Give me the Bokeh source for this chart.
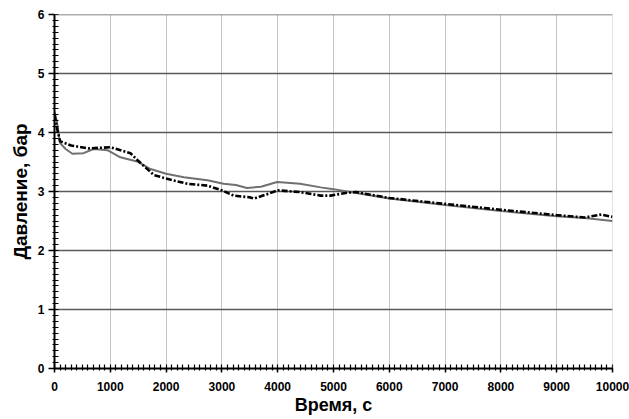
from bokeh.plotting import figure
from bokeh.embed import file_html
from bokeh.resources import INLINE
from bokeh.models import FixedTicker, Range1d, Span, Title

# Series 1: solid grey curve
t_solid = [0, 40, 100, 200, 320, 520, 700, 950, 1180, 1480, 1720, 2000, 2320,
           2740, 3030, 3250, 3450, 3700, 3990, 4400, 4770, 5000, 5300, 6000,
           7000, 8000, 9000, 9500, 10000]
p_solid = [4.35, 4.2, 3.82, 3.72, 3.64, 3.65, 3.72, 3.7, 3.58, 3.51, 3.38, 3.3,
           3.24, 3.19, 3.13, 3.11, 3.06, 3.08, 3.16, 3.13, 3.07, 3.04, 2.99,
           2.88, 2.77, 2.67, 2.58, 2.55, 2.5]

# Series 2: black dash-dot curve
t_dash = [0, 50, 100, 300, 600, 1000, 1360, 1500, 1780, 2000, 2380, 2740, 3000,
          3210, 3510, 3570, 3800, 4000, 4400, 4770, 4950, 5250, 5400, 6000,
          7000, 8000, 9000, 9500, 9800, 10000]
p_dash = [4.3, 4.05, 3.85, 3.78, 3.73, 3.75, 3.65, 3.52, 3.28, 3.22, 3.13, 3.1,
          3.02, 2.93, 2.9, 2.88, 2.95, 3.02, 2.99, 2.93, 2.93, 2.98, 2.99, 2.89,
          2.79, 2.69, 2.6, 2.56, 2.61, 2.57]

x_ticks = [0, 1000, 2000, 3000, 4000, 5000, 6000, 7000, 8000, 9000, 10000]
y_ticks = [0, 1, 2, 3, 4, 5, 6]
x_label = "Время, с"
y_label = "Давление, бар"

p = figure(width=629, height=419, output_backend="svg", toolbar_location=None,
           x_range=Range1d(x_ticks[0], x_ticks[-1]), y_range=Range1d(y_ticks[0], y_ticks[-1]),
           min_border_left=54, min_border_right=17, min_border_top=14,
           min_border_bottom=51)
p.outline_line_color = None
p.background_fill_color = "white"

p.xaxis.ticker = FixedTicker(ticks=x_ticks, minor_ticks=list(range(0, 10001, 100)))
p.yaxis.ticker = FixedTicker(ticks=y_ticks, minor_ticks=[i / 10 for i in range(0, 61)])

p.ygrid.grid_line_color = "#5a5a5a"
p.ygrid.grid_line_width = 1.3
p.xgrid.grid_line_color = "#8a8a8a"
p.xgrid.grid_line_dash = "1 1"
p.xgrid.grid_line_width = 1

# closing lines of the box (top grid line at 6 and right grid line at 10000)
p.add_layout(Span(location=y_ticks[-1], dimension="width", line_color="#5a5a5a", line_width=1.3))
p.add_layout(Span(location=x_ticks[-1], dimension="height", line_color="#8a8a8a",
                  line_width=1, line_dash="1 1"))

for ax in (p.xaxis, p.yaxis):
    ax.axis_line_color = "black"
    ax.axis_line_width = 2
    ax.major_tick_line_color = "black"
    ax.major_tick_line_width = 1.5
    ax.minor_tick_line_color = "black"
    ax.minor_tick_line_width = 1.2
    ax.minor_tick_in = 4
    ax.minor_tick_out = 2
    ax.major_label_text_font = "Liberation Sans"
    ax.major_label_text_font_style = "bold"
    ax.major_label_text_font_size = "12px"
    ax.major_label_text_color = "black"
    ax.axis_label_text_font = "Liberation Sans"
    ax.axis_label_text_font_style = "bold"
    ax.axis_label_text_font_size = "18px"
    ax.axis_label_text_color = "black"

p.xaxis.major_tick_in = 0
p.xaxis.major_tick_out = 4
p.yaxis.major_tick_in = 0
p.yaxis.major_tick_out = 6

p.xaxis.axis_label = x_label
p.xaxis.major_label_standoff = 9
p.yaxis.major_label_standoff = 4
p.xaxis.axis_label_standoff = 1

# y-axis title, shifted below the frame centre as in the reference
p.add_layout(Title(text=y_label, align="center", offset=-34, standoff=8,
                   text_font="Liberation Sans", text_font_style="bold",
                   text_font_size="19px", text_color="black"), "left")

p.line(t_solid, p_solid, line_color="#707070", line_width=2)
p.line(t_dash, p_dash, line_color="black", line_width=2.6, line_dash="6 2 2 2")

open("out.html", "w").write(file_html(p, INLINE))
